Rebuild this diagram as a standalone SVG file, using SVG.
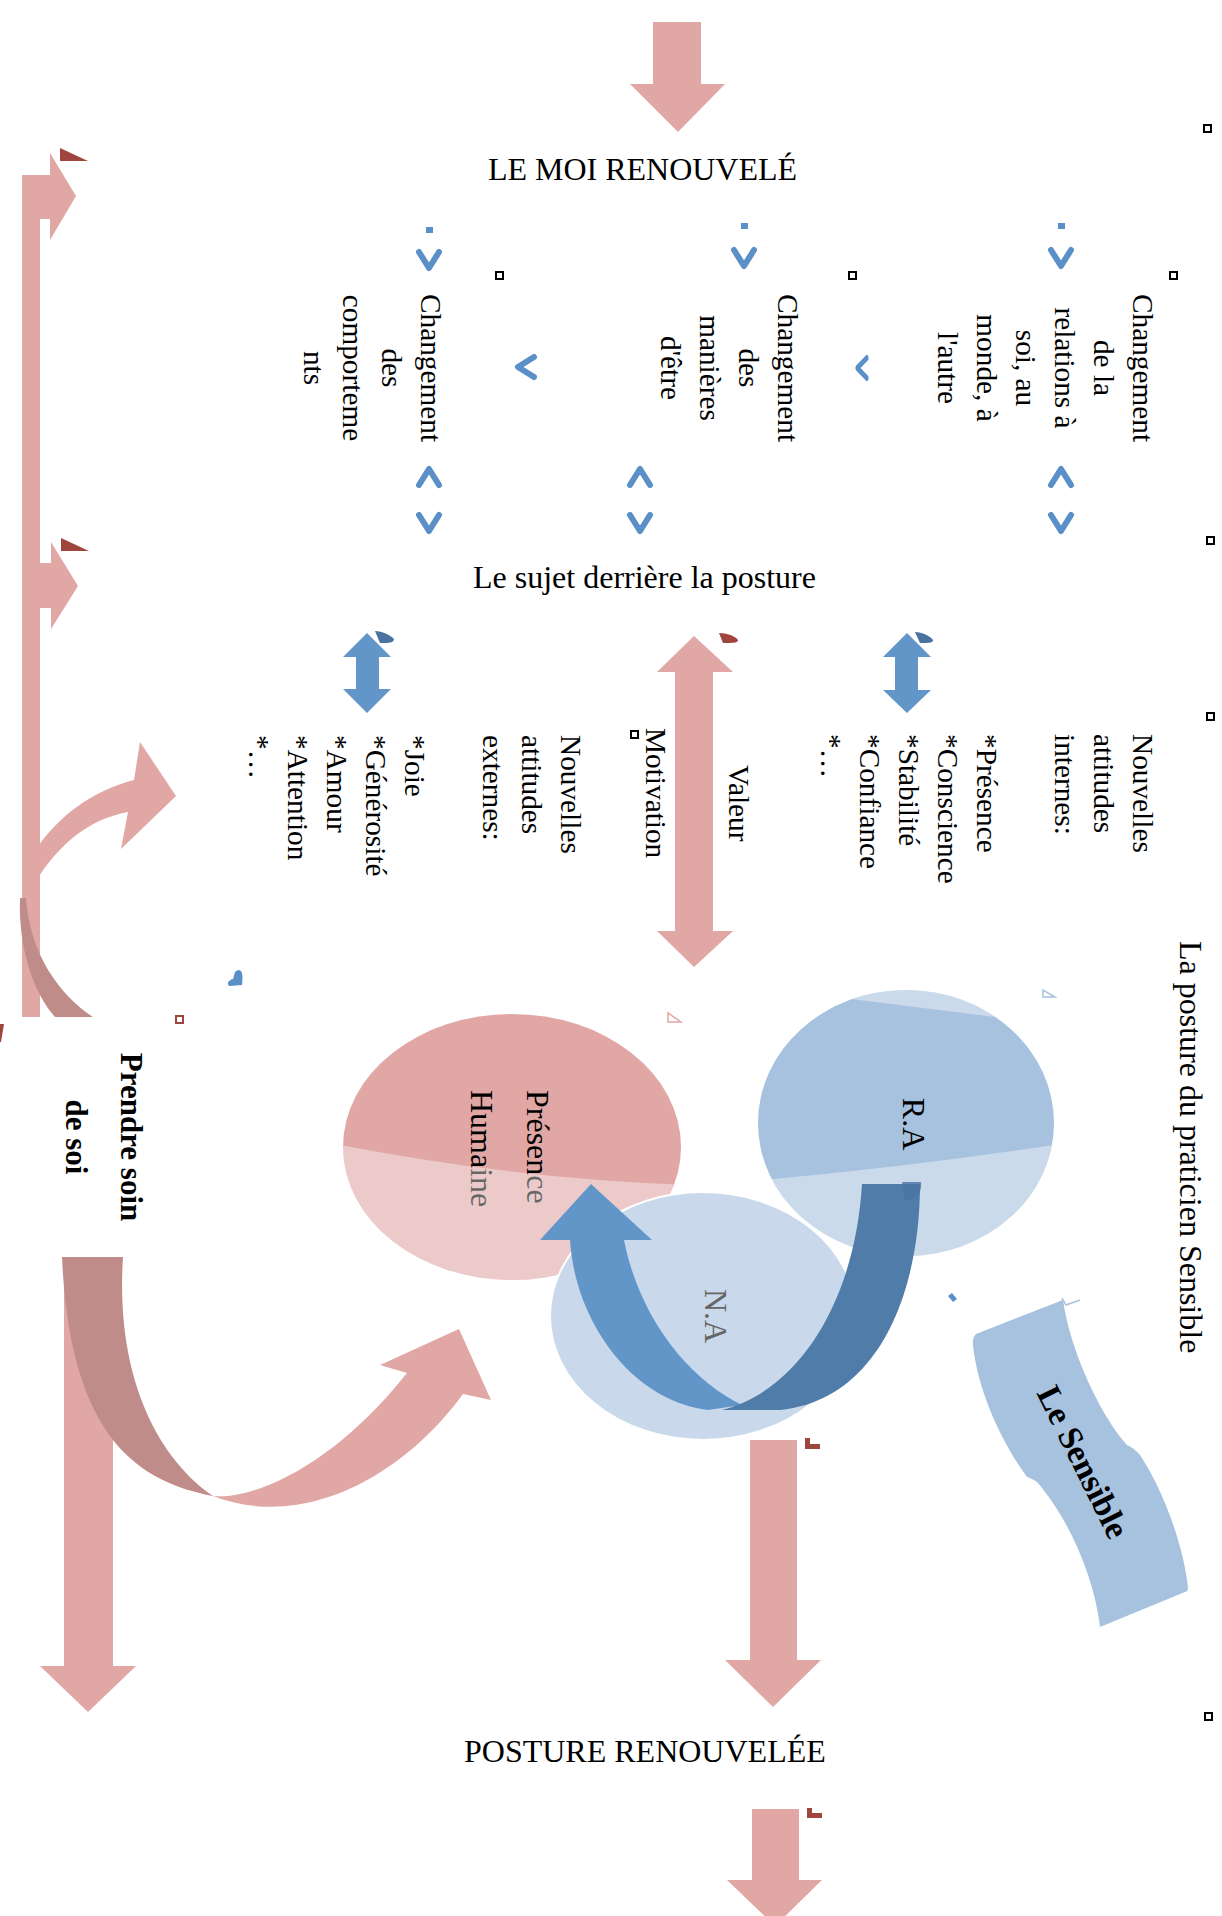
<svg xmlns="http://www.w3.org/2000/svg" width="1222" height="1916" viewBox="0 0 1222 1916">
<defs>
<style>
text { font-family: "Liberation Serif", "Times New Roman", serif; fill: #000; }
.t29 { font-size: 29.3px; }
.t32 { font-size: 32px; }
.b31 { font-size: 31px; font-weight: bold; }
.pk { fill: #e0a7a5; }
.dk { fill: #bf8c8a; }
.rd { fill: #a0453e; }
.bl { fill: #6396c8; }
.bd { fill: #4f7ca8; }
.tab { fill: #4a73a0; }
.chev { fill: none; stroke: #5b8fc8; stroke-width: 6; stroke-linecap: round; stroke-linejoin: round; }
.dot { fill: #5b8fc8; }
.sq { fill: #fff; stroke: #000; stroke-width: 2; }
.ov { fill: #fff; fill-opacity: 0.4; }
</style>
<path id="chev" d="M-10,-8 L0,8 L10,-8"/>
<clipPath id="cpPink"><ellipse cx="512" cy="1147" rx="169" ry="133"/></clipPath>
<clipPath id="cpRA"><ellipse cx="906" cy="1123" rx="148" ry="133"/></clipPath>
</defs>
<rect width="1222" height="1916" fill="#fff"/>

<g id="connectors">
  <!-- top arrow -->
  <polygon class="pk" points="653,22 701,22 701,84 725,84 678,132 630,84 653,84"/>
  <!-- left bar with two arms -->
  <rect class="pk" x="22" y="175" width="18" height="842"/>
  <polygon class="pk" points="22,175 50,175 50,153 76,196 50,240 50,219 22,219"/>
  <polygon class="pk" points="38,563 51,563 51,542 78,586 51,629 51,608 38,608"/>
  <polygon class="rd" points="60,148 88,161 60,161"/>
  <polygon class="rd" points="61,538 89,551 61,551"/>
  <!-- upper curved arrow from bar -->
  <path class="pk" d="M28,862 C55,815 95,790 134,780 L140,742 L176,796 L121,849 L128,812 C95,818 62,838 34,884 Z"/>
  <!-- dark ribbon upper part -->
  <path class="dk" d="M20,898 C18,950 35,995 55,1017 L93,1017 C60,995 30,955 26,898 Z"/>
  <!-- vertical straight arrow below Prendre soin -->
  <polygon class="pk" points="64,1257 113,1257 113,1666 136,1666 88,1712 40,1666 64,1666"/>
  <!-- dark ribbon lower part -->
  <path class="dk" d="M62,1257 L123,1257 C115,1380 160,1460 213,1496 C140,1482 70,1440 62,1257 Z"/>
  <!-- pink front part to Présence Humaine -->
  <path class="pk" d="M213,1496 C250,1500 330,1470 407,1373 L380,1365 L459,1329 L491,1400 L463,1394 C400,1480 300,1530 213,1496 Z"/>
  <!-- middle pink double arrow -->
  <polygon class="pk" points="694,636 733,672 713,672 713,931 733,931 694,967 657,931 675,931 675,672 657,672"/>
  <path class="rd" d="M719,633 C727,633 735,636 738,640 C738,643 733,643 723,643 Z"/>
  <!-- blue double arrows -->
  <polygon class="bl" points="907,633 931,657 918,657 918,690 931,690 907,713 883,690 895,690 895,657 883,657"/>
  <path class="tab" d="M915,632 C922,632 930,636 933,640 C933,643 929,643 920,643 Z"/>
  <polygon class="bl" points="367,633 391,657 379,657 379,689 391,689 367,713 343,689 356,689 356,657 343,657"/>
  <path class="tab" d="M375,631 C382,631 390,635 394,639 C394,643 389,643 380,643 Z"/>
  <!-- lower pink arrows -->
  <polygon class="pk" points="750,1440 797,1440 797,1660 821,1660 773,1707 725,1660 750,1660"/>
  <polygon class="rd" points="805,1438 810,1438 810,1444 820,1444 820,1449 805,1449"/>
  <polygon class="pk" points="752,1809 799,1809 799,1880 822,1880 775,1926 727,1880 752,1880"/>
  <polygon class="rd" points="807,1808 812,1808 812,1813 822,1813 822,1818 807,1818"/>
  <!-- chevrons -->
  <rect class="dot" x="1058" y="223" width="7" height="6"/>
  <use href="#chev" class="chev" transform="translate(1061,258)"/>
  <use href="#chev" class="chev" transform="translate(1061,477) rotate(180)"/>
  <use href="#chev" class="chev" transform="translate(1061,523)"/>
  <rect class="dot" x="741" y="223" width="7" height="6"/>
  <use href="#chev" class="chev" transform="translate(744,258)"/>
  <use href="#chev" class="chev" transform="translate(640,477) rotate(180)"/>
  <use href="#chev" class="chev" transform="translate(640,523)"/>
  <rect class="dot" x="426" y="227" width="7" height="6"/>
  <use href="#chev" class="chev" transform="translate(429,260)"/>
  <use href="#chev" class="chev" transform="translate(429,477) rotate(180)"/>
  <use href="#chev" class="chev" transform="translate(429,523)"/>
  <use href="#chev" class="chev" transform="translate(526,367) rotate(90)"/>
  <use href="#chev" class="chev" transform="translate(862,368) scale(0.6,1) rotate(90)"/>
</g>

<g id="markers">
  <rect class="sq" x="1204" y="125" width="7" height="7"/>
  <rect class="sq" x="1170" y="272" width="7" height="7"/>
  <rect class="sq" x="849" y="272" width="7" height="7"/>
  <rect class="sq" x="496" y="272" width="7" height="7"/>
  <rect class="sq" x="1207" y="537" width="7" height="7"/>
  <rect class="sq" x="1207" y="713" width="7" height="7"/>
  <rect class="sq" x="631" y="731" width="7" height="7"/>
  <rect class="sq" x="1205" y="1713" width="7" height="7"/>
  <rect x="176" y="1016" width="7" height="7" fill="#fff" stroke="#a0453e" stroke-width="2"/>
  <polygon class="rd" points="0,1024 4,1024 1,1042 0,1042"/>
  <path fill="#5b8fc8" d="M238,970 C243,970 243,976 242,985 L230,986 C226,985 228,980 233,979 L235,972 Z"/>
  <polygon fill="#5b8fc8" points="948,1296 952,1293 957,1299 953,1302"/>
  <polygon fill="none" stroke="#a7c2de" stroke-width="1.5" points="1043,990 1043,997 1055,997"/>
  <polygon fill="none" stroke="#e0a7a5" stroke-width="1.5" points="668,1013 668,1022 681,1022"/>
  <polyline fill="none" stroke="#a7c2de" stroke-width="1.5" points="1062,1298 1066,1305 1080,1300"/>
</g>

<g id="title-top"><text class="t32" x="488" y="180" textLength="309">LE MOI RENOUVELÉ</text></g>
<g id="sujet"><text class="t32" x="473" y="588">Le sujet derrière la posture</text></g>
<g id="posture-renouvelee"><text class="t32" x="464" y="1762">POSTURE RENOUVELÉE</text></g>

<g id="col-relations">
  <text class="t29" transform="translate(1133,368) rotate(90)" text-anchor="middle">
    <tspan x="0" y="0">Changement</tspan><tspan x="0" y="39">de la</tspan><tspan x="0" y="78">relations à</tspan><tspan x="0" y="117">soi, au</tspan><tspan x="0" y="156">monde, à</tspan><tspan x="0" y="195">l'autre</tspan>
  </text>
</g>
<g id="col-manieres">
  <text class="t29" transform="translate(778,368) rotate(90)" text-anchor="middle">
    <tspan x="0" y="0">Changement</tspan><tspan x="0" y="39">des</tspan><tspan x="0" y="78">manières</tspan><tspan x="0" y="117">d'être</tspan>
  </text>
</g>
<g id="col-comportements">
  <text class="t29" transform="translate(421,368) rotate(90)" text-anchor="middle">
    <tspan x="0" y="0">Changement</tspan><tspan x="0" y="39">des</tspan><tspan x="0" y="78">comporteme</tspan><tspan x="0" y="117">nts</tspan>
  </text>
</g>

<g id="attitudes-internes">
  <text class="t29" transform="translate(1133,734) rotate(90)">
    <tspan x="0" y="0">Nouvelles</tspan><tspan x="0" y="39">attitudes</tspan><tspan x="0" y="78">internes:</tspan><tspan x="0" y="156">*Présence</tspan><tspan x="0" y="195">*Conscience</tspan><tspan x="0" y="234">*Stabilité</tspan><tspan x="0" y="273">*Confiance</tspan><tspan x="0" y="312">*…</tspan>
  </text>
</g>
<g id="attitudes-externes">
  <text class="t29" transform="translate(561,735) rotate(90)">
    <tspan x="0" y="0">Nouvelles</tspan><tspan x="0" y="39">attitudes</tspan><tspan x="0" y="78">externes:</tspan><tspan x="0" y="156">*Joie</tspan><tspan x="0" y="195">*Générosité</tspan><tspan x="0" y="234">*Amour</tspan><tspan x="0" y="273">*Attention</tspan><tspan x="0" y="312">*…</tspan>
  </text>
</g>
<g id="valeur"><text class="t29" transform="translate(729,765) rotate(90)">Valeur</text></g>
<g id="motivation"><text class="t29" transform="translate(646,728) rotate(90)">Motivation</text></g>

<g id="praticien"><text class="t32" transform="translate(1180,941) rotate(90)">La posture du praticien Sensible</text></g>

<g id="prendre-soin">
  <text class="b31" transform="translate(121,1137) rotate(90)" text-anchor="middle">Prendre soin</text>
  <text class="b31" transform="translate(66,1137) rotate(90)" text-anchor="middle">de soi</text>
</g>

<g id="presence-humaine">
  <ellipse cx="512" cy="1147" rx="169" ry="133" fill="#e0a7a5"/>
  <text class="t32" transform="translate(527,1090) rotate(90)">Présence</text>
  <text class="t32" transform="translate(471,1090) rotate(90)">Humaine</text>
  <path class="ov" clip-path="url(#cpPink)" d="M330,1143 Q516,1180 700,1185 L700,1300 L330,1300 Z"/>
</g>

<g id="ra">
  <ellipse cx="906" cy="1123" rx="148" ry="133" fill="#a7c2de"/>
  <path class="ov" clip-path="url(#cpRA)" d="M750,1181 Q900,1168 1060,1144 L1060,1270 L750,1270 Z"/>
  <path class="ov" clip-path="url(#cpRA)" d="M700,980 L1100,1030 L1100,950 L700,950 Z"/>
  <text class="t32" transform="translate(903,1124) rotate(90)" text-anchor="middle">R.A</text>
</g>

<g id="na">
  <ellipse cx="703" cy="1316" rx="153" ry="124" fill="#c9d9eb" stroke="#fff" stroke-width="2"/>
  <text class="t32" transform="translate(705,1316) rotate(90)" text-anchor="middle" style="fill:#666">N.A</text>
</g>

<g id="u-arrow">
  <path class="bl" d="M570,1240 C575,1320 630,1400 708,1410 L742,1405 C690,1380 640,1320 624,1240 L652,1240 L591,1184 L540,1240 Z"/>
  <path class="bd" d="M862,1184 L920,1184 C920,1290 880,1400 780,1410 L722,1410 C800,1390 855,1300 862,1184 Z"/>
  <path class="tab" fill-opacity="0.8" d="M902,1182 L921,1182 C922,1192 918,1199 905,1200 Z"/>
</g>

<g id="le-sensible">
  <path fill="#a7c2de" d="M976,1334 L1063,1300 C1070,1350 1100,1415 1127,1445 Q1134,1448 1140,1455 C1160,1485 1183,1540 1188,1588 Q1188,1591 1185,1592 L1100,1627 C1095,1580 1070,1520 1037,1482 Q1031,1478 1027,1477 C1000,1440 978,1390 973,1346 Q972,1338 976,1334 Z"/>
  <text transform="translate(1073,1467) rotate(63.6)" text-anchor="middle" style="font-size:34px;font-weight:bold">Le Sensible</text>
</g>
</svg>
